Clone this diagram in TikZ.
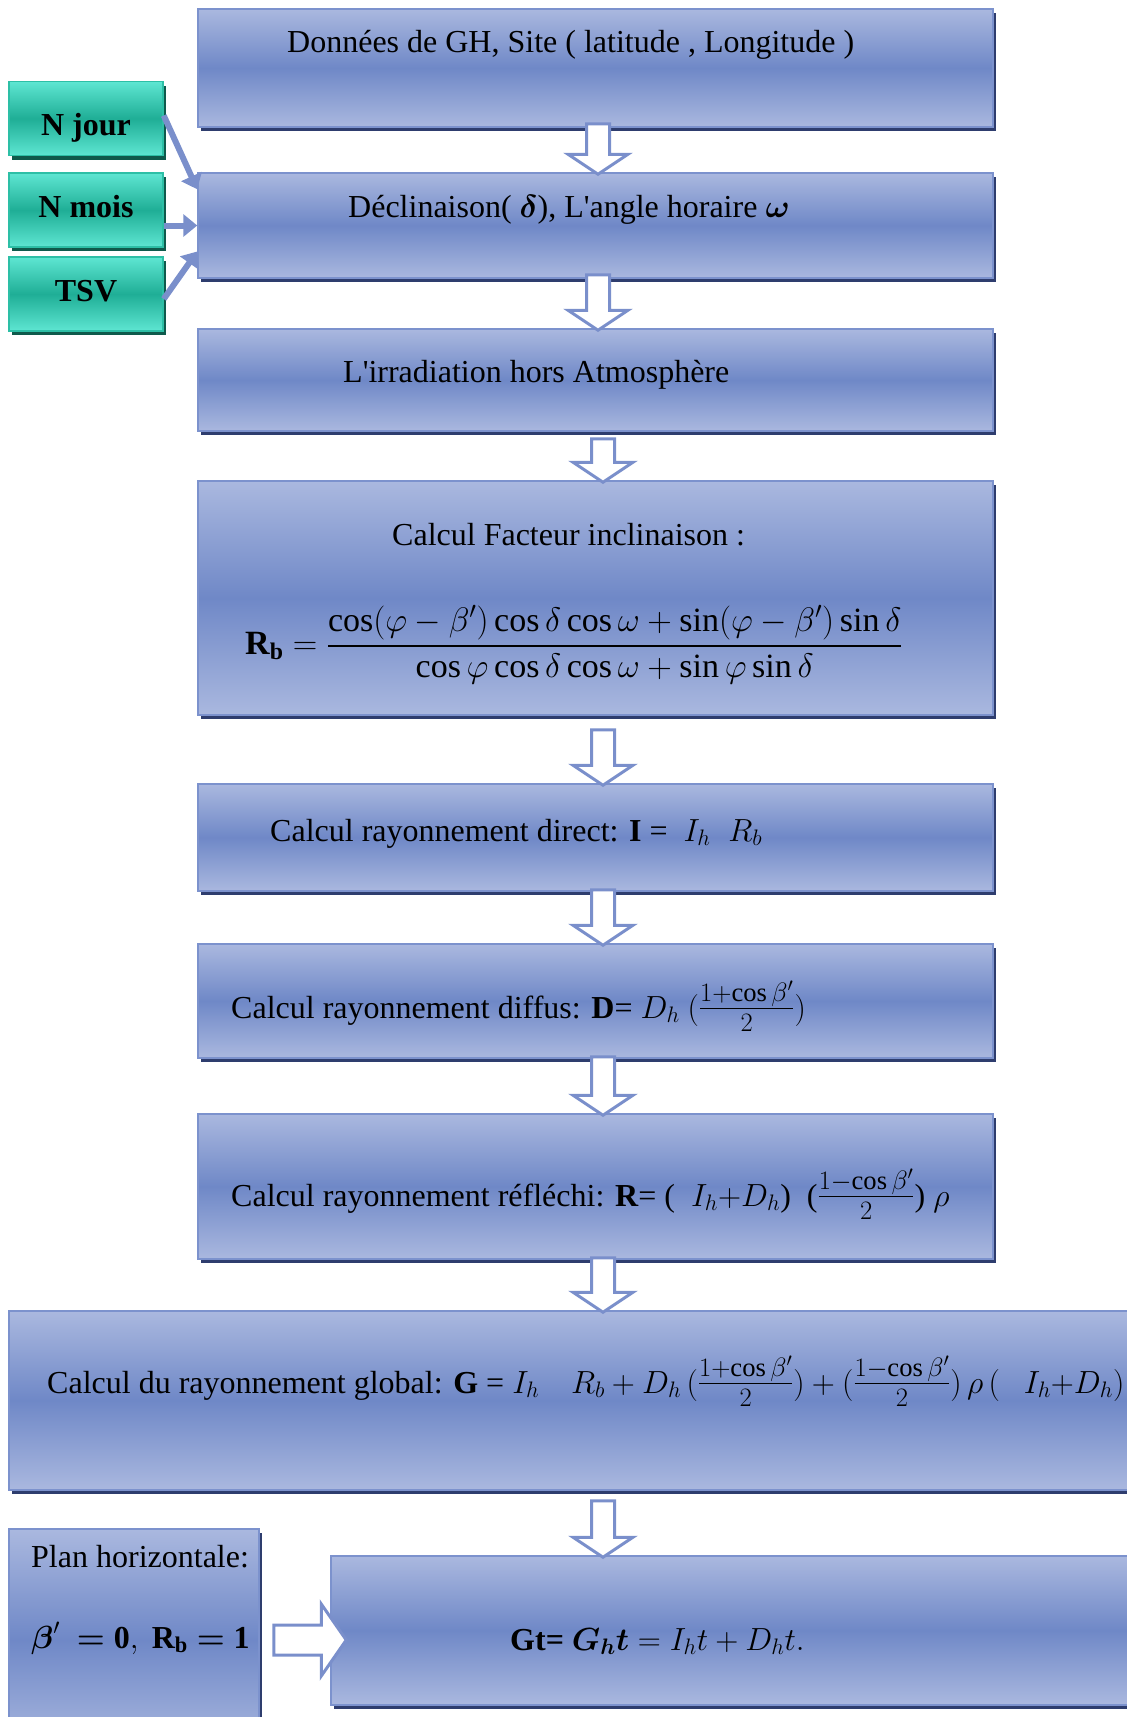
\RequirePackage{fix-cm}
\documentclass[tikz,border=0pt]{standalone}
\usepackage{amsmath}
\usepackage{amssymb}
\usepackage{fontspec}
\setmainfont{Liberation Serif}
\usetikzlibrary{arrows.meta,shadows,calc}

\definecolor{boxlight}{HTML}{AAB8DF}
\definecolor{boxmid}{HTML}{6F88C7}
\definecolor{boxedge}{HTML}{7C92CD}
\definecolor{boxshade}{HTML}{2E3D6E}
\definecolor{greenlight}{HTML}{5EE6D2}
\definecolor{greenmid}{HTML}{1FAE96}
\definecolor{greenedge}{HTML}{2DBFA6}
\definecolor{greenshade}{HTML}{0F5A4C}
\definecolor{arrowblue}{HTML}{7A8FCB}

\tikzset{
  bluebox/.style={rectangle, inner sep=0pt, draw=boxedge, line width=1.5pt,
    top color=boxlight, bottom color=boxlight, middle color=boxmid,
    drop shadow={shadow xshift=3pt, shadow yshift=-4pt, fill=boxshade, opacity=1}},
  greenbox/.style={rectangle, inner sep=0pt, draw=greenedge, line width=1.5pt,
    top color=greenlight, bottom color=greenlight, middle color=greenmid,
    minimum width=154pt, minimum height=74pt, text height=14pt, text depth=0pt,
    font=\fontsize{32}{38}\selectfont\bfseries,
    drop shadow={shadow xshift=3pt, shadow yshift=-4pt, fill=greenshade, opacity=1}},
  txt/.style={anchor=base west, inner sep=0pt, font=\fontsize{32}{38}\selectfont},
  hollow/.style={draw=arrowblue, line width=3pt, fill=white, line join=miter},
  feed/.style={draw=arrowblue, line width=6pt, -{Triangle[length=14pt,width=22pt]}}
}

% small fraction set a bit larger than the script size
\newcommand{\ratio}[2]{\text{\fontsize{38}{40}\selectfont$\frac{#1}{#2}$}}

% hollow block arrow going down: {from}{to}{xshift}{start offset}
\newcommand{\blockdown}[4]{%
  \draw[hollow] let \p1=([xshift=#3]#1.south), \p2=(#2.north) in
    (\x1-11.5pt,\y1-#4) -- (\x1+11.5pt,\y1-#4) -- (\x1+11.5pt,\y2+18pt)
    -- (\x1+30pt,\y2+18pt) -- (\x1,\y2-2pt) -- (\x1-30pt,\y2+18pt)
    -- (\x1-11.5pt,\y2+18pt) -- cycle;}
% hollow block arrow going right
\newcommand{\blockright}[2]{%
  \draw[hollow] let \p1=(#1.east), \p2=(#2.west) in
    (\x1+14pt,\y1+15pt) -- (\x2-9pt,\y1+15pt) -- (\x2-9pt,\y1+36pt)
    -- (\x2+16pt,\y1) -- (\x2-9pt,\y1-36pt) -- (\x2-9pt,\y1-15pt)
    -- (\x1+14pt,\y1-15pt) -- cycle;}

\begin{document}
\begin{tikzpicture}[x=1pt,y=-1pt]
  \useasboundingbox (0,0) rectangle (1127,1717);
  \clip (0,0) rectangle (1127,1717);

  % main boxes
  \node[bluebox, minimum width=795pt, minimum height=118pt] (donnees) at (595.5,68) {};
  \node[bluebox, minimum width=795pt, minimum height=105pt] (declin) at (595.5,225.5) {};
  \node[bluebox, minimum width=795pt, minimum height=102pt] (irrad) at (595.5,380) {};
  \node[bluebox, minimum width=795pt, minimum height=234pt] (facteur) at (595.5,598) {};
  \node[bluebox, minimum width=795pt, minimum height=107pt] (direct) at (595.5,837.5) {};
  \node[bluebox, minimum width=795pt, minimum height=114pt] (diffus) at (595.5,1001) {};
  \node[bluebox, minimum width=795pt, minimum height=145pt] (reflechi) at (595.5,1186.5) {};
  \node[bluebox, minimum width=1136pt, minimum height=179pt] (global) at (577,1400.5) {};
  \node[bluebox, minimum width=250pt, minimum height=222pt] (plan) at (134,1640) {};
  \node[bluebox, minimum width=814pt, minimum height=149pt] (gt) at (738,1630.5) {};

  % inputs
  \node[greenbox, text height=34pt] (jour) at (86,118.5) {N jour};
  \node[greenbox] (mois) at (86,210) {N mois};
  \node[greenbox] (tsv) at (86,294) {TSV};

  % texts
  \node[txt] (donnees-txt) at (287,52) {Données de GH, Site ( latitude , Longitude )};
  \node[txt] (declin-txt) at (348,217) {Déclinaison( $\boldsymbol{\delta}$), L\textquotesingle angle horaire $\boldsymbol{\omega}$};
  \node[txt] (irrad-txt) at (343,382) {L\textquotesingle irradiation hors Atmosphère};
  \node[txt] (facteur-txt) at (392,545) {Calcul Facteur inclinaison :};
  \node[txt, anchor=west, font=\fontsize{34}{40}\selectfont] (facteur-eq) at (245,645)
    {$\mathbf{R_b} = \dfrac{\cos(\varphi-\beta')\cos\delta\cos\omega+\sin(\varphi-\beta')\sin\delta}{\cos\varphi\cos\delta\cos\omega+\sin\varphi\sin\delta}$};
  \node[txt] (direct-txt) at (270,841) {Calcul rayonnement direct: \textbf{I} = \ $I_h\;\;R_b$};
  \node[txt] (diffus-txt) at (231,1018) {Calcul rayonnement diffus: \textbf{D}= $D_h\ (\ratio{1+\cos\beta'}{2})$};
  \node[txt] (reflechi-txt) at (231,1206) {Calcul rayonnement réfléchi: \textbf{R}= ( \ $I_h{+}D_h$) \ ($\ratio{1-\cos\beta'}{2}$) $\rho$};
  \node[txt] (global-txt) at (47,1393) {Calcul du rayonnement global: \textbf{G} = $I_h\;\;\;\,R_b + D_h\,(\ratio{1+\cos\beta'}{2}) + (\ratio{1-\cos\beta'}{2})\,\rho\,(\ \ \ I_h{+}D_h)$};
  \node[txt] (plan-txt) at (31,1567) {Plan horizontale:};
  \node[txt] (plan-eq) at (31,1648) {$\boldsymbol{\beta}'\ \boldsymbol{=} \mathbf{0},\ \mathbf{R_b} \boldsymbol{=} \mathbf{1}$};
  \node[txt] (gt-txt) at (510,1650) {\textbf{Gt=} $\boldsymbol{G_h t} = I_h t + D_h t.$};

  % inputs to declinaison
  \draw[feed] ([yshift=3pt]jour.east) -- ([yshift=-17pt]declin.north west);
  \draw[feed] (mois.east |- declin.west) -- (declin.west);
  \draw[feed] ([yshift=-5pt]tsv.east) -- ([yshift=-26pt]declin.west);

  % flow
  \blockdown{donnees}{declin}{2.5pt}{-4pt}
  \blockdown{declin}{irrad}{2.5pt}{-4pt}
  \blockdown{irrad}{facteur}{7.5pt}{7pt}
  \blockdown{facteur}{direct}{7.5pt}{14pt}
  \blockdown{direct}{diffus}{7.5pt}{-2pt}
  \blockdown{diffus}{reflechi}{7.5pt}{-2pt}
  \blockdown{reflechi}{global}{7.5pt}{-2pt}
  \blockdown{global}{gt}{26pt}{10pt}
  \blockright{plan}{gt}
\end{tikzpicture}
\end{document}
